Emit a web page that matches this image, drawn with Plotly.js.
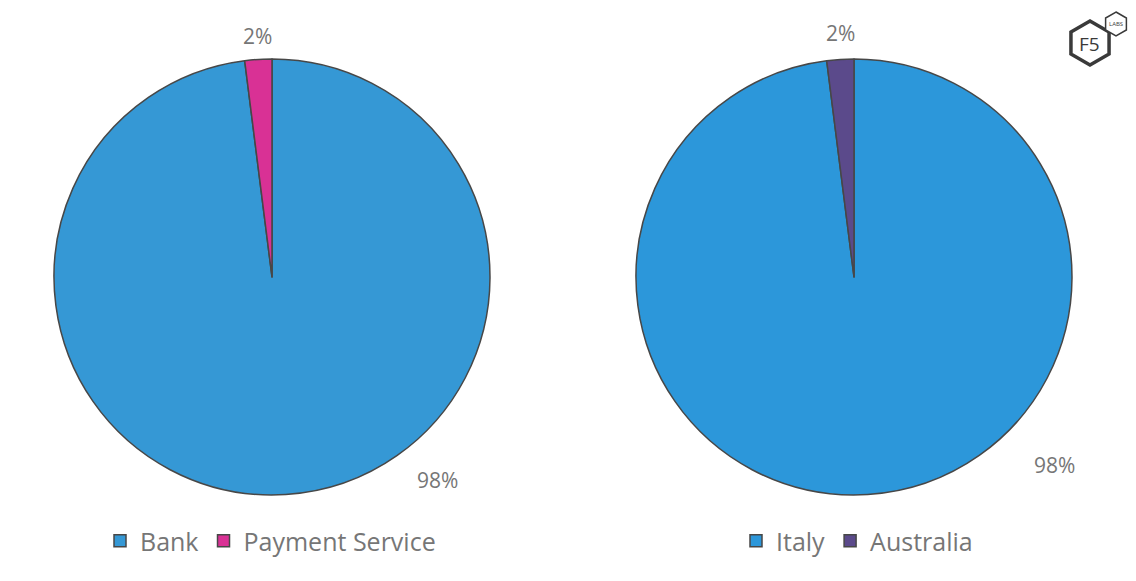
<!DOCTYPE html>
<html><head><meta charset="utf-8">
<script src="https://cdn.plot.ly/plotly-3.0.1.min.js"></script>
<style>html,body{margin:0;padding:0;background:#fff}#chart{width:1136px;height:581px}</style>
</head><body><div id="chart"></div>
<script>
const sectorLabels = ["Bank", "Payment Service"];
const sectorValues = [98, 2];
const sectorColors = ["#3598d5", "#d93195"];
const countryLabels = ["Italy", "Australia"];
const countryValues = [98, 2];
const countryColors = ["#2c97da", "#5b4a8b"];

const W = 1136, H = 581;
const textColor = "#767676";
const fontFam = "Open Sans, Noto Sans, sans-serif";

function pct(vals, i) {
  const tot = vals.reduce((a, b) => a + b, 0);
  return Math.round(vals[i] / tot * 100) + "%";
}

function pieTrace(labels, values, colors, cx, legend) {
  const r = 218, cy = 277;
  return {
    type: "pie", labels: labels, values: values, sort: false,
    direction: "clockwise", rotation: 0, textinfo: "none", hoverinfo: "label+percent",
    marker: {colors: colors, line: {color: "#474747", width: 1.5}},
    domain: {x: [(cx - r) / W, (cx + r) / W], y: [1 - (cy + r) / H, 1 - (cy - r) / H]},
    legend: legend, showlegend: true
  };
}

const data = [
  pieTrace(sectorLabels, sectorValues, sectorColors, 272, "legend"),
  pieTrace(countryLabels, countryValues, countryColors, 854, "legend2")
];

function ann(text, px, py, size, color, extra) {
  return Object.assign({text: text, x: px / W, y: 1 - py / H, xref: "paper", yref: "paper",
    showarrow: false, xanchor: "center", yanchor: "middle",
    font: {family: fontFam, size: size, color: color}}, extra || {});
}

const annotations = [
  ann(pct(sectorValues, 1), 257, 36, 21, textColor),
  ann(pct(sectorValues, 0), 437, 480, 21, textColor),
  ann(pct(countryValues, 1), 840, 33, 21, textColor),
  ann(pct(countryValues, 0), 1054, 465, 21, textColor),
  ann("F5", 1089, 44, 19, "#3a3a3a"),
  ann("LABS", 1116, 24, 6, "#3a3a3a")
];

function hexPath(cx, cy, r) {
  let p = "";
  for (let k = 0; k < 6; k++) {
    const a = Math.PI / 180 * (-90 + 60 * k);
    const x = (cx + r * Math.cos(a)) / W, y = 1 - (cy + r * Math.sin(a)) / H;
    p += (k === 0 ? "M" : "L") + x + "," + y;
  }
  return p + "Z";
}

const shapes = [
  {type: "path", xref: "paper", yref: "paper", path: hexPath(1090, 43, 22), line: {color: "#3a3a3a", width: 3.5}},
  {type: "path", xref: "paper", yref: "paper", path: hexPath(1116, 24, 12), fillcolor: "#ffffff", line: {color: "#3a3a3a", width: 1.5}}
];

const legendBase = {orientation: "h", xanchor: "left", yanchor: "middle", y: 1 - 541 / H,
  font: {family: fontFam, size: 25, color: textColor}, itemwidth: 30, bgcolor: "rgba(0,0,0,0)",
  tracegroupgap: 0};

const layout = {
  width: W, height: H, margin: {l: 0, r: 0, t: 0, b: 0},
  paper_bgcolor: "#ffffff", showlegend: true,
  legend: Object.assign({}, legendBase, {x: 100 / W}),
  legend2: Object.assign({}, legendBase, {x: 736 / W}),
  annotations: annotations, shapes: shapes
};

Plotly.newPlot("chart", data, layout, {displayModeBar: false, staticPlot: true});
</script></body></html>
